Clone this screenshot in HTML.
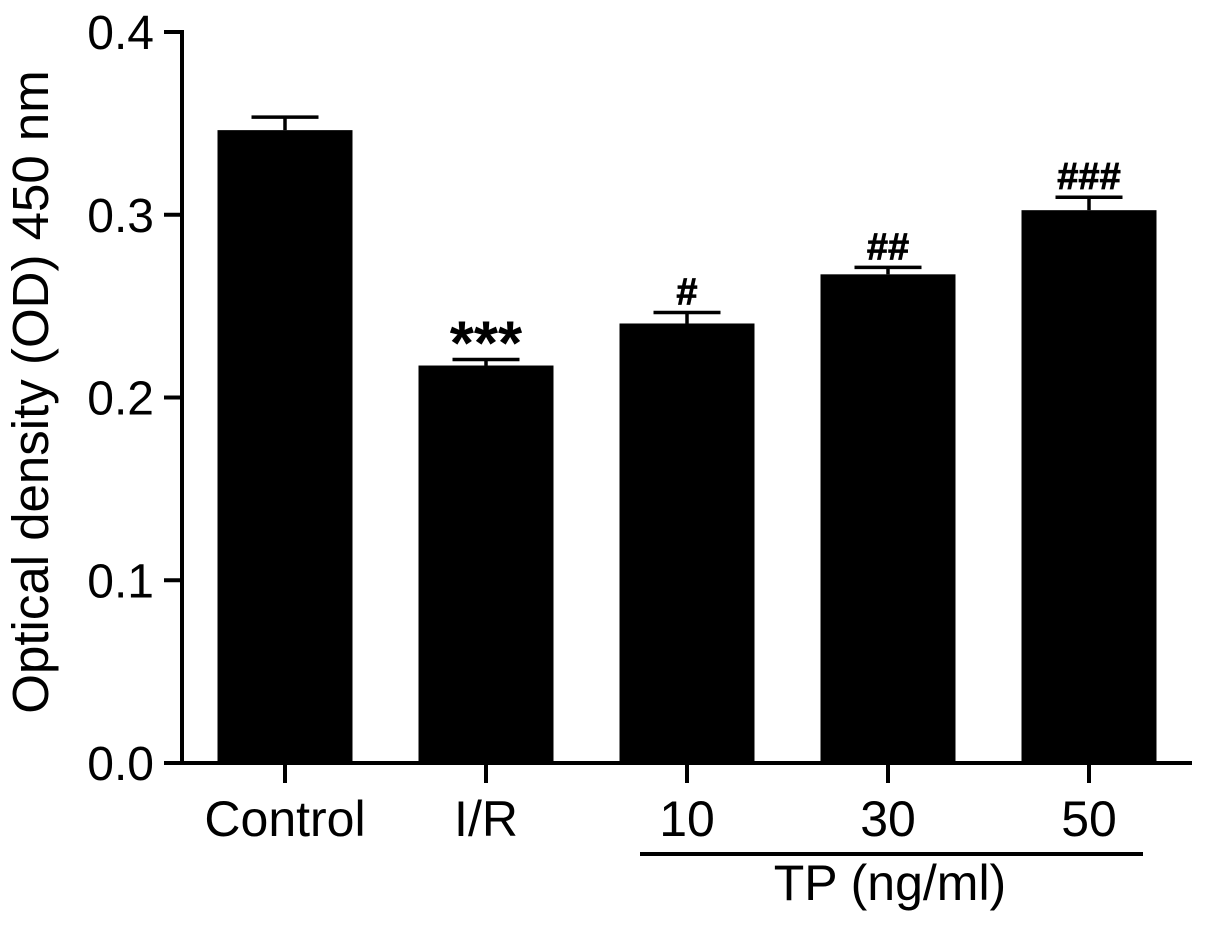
<!DOCTYPE html>
<html><head><meta charset="utf-8"><style>
html,body{margin:0;padding:0;background:#fff;width:1205px;height:932px;overflow:hidden}
svg text{font-family:"Liberation Sans",sans-serif;fill:#000}
</style></head><body>
<svg id="chart" width="1205" height="932" viewBox="0 0 1205 932" xmlns="http://www.w3.org/2000/svg"></svg>
<script>
const categories = ["Control", "I/R", "10", "30", "50"];
const means = [0.3463, 0.2175, 0.2405, 0.2674, 0.3025];
const errors = [0.0071, 0.0033, 0.0060, 0.0038, 0.0071];
const marks = ["", "***", "#", "##", "###"];
const yTicks = [0, 0.1, 0.2, 0.3, 0.4];
const yTickLabels = ["0.0", "0.1", "0.2", "0.3", "0.4"];

const NS = "http://www.w3.org/2000/svg";
const svg = document.getElementById('chart');
const y0 = 763, yTop = 32, yMax = 0.4;
function yScale(v){ return y0 - (v / yMax) * (y0 - yTop); }
const xStart = 285, xStep = 201;
function xScale(i){ return xStart + i * xStep; }
const barW = 135, capW = 67;
function mk(tag, attrs){ const e = document.createElementNS(NS, tag); for (const k in attrs) e.setAttribute(k, attrs[k]); svg.appendChild(e); return e; }

categories.forEach((c, i) => {
  const cx = xScale(i), top = yScale(means[i]), et = yScale(means[i] + errors[i]);
  const r = mk('rect', {x: cx - barW/2, y: top, width: barW, height: y0 - top, fill: '#000'});
  
  
  const v = mk('line', {x1: cx, x2: cx, y1: top, y2: et, stroke: '#000', 'stroke-width': 3.5});
  
  
  const cap = mk('line', {x1: cx - capW/2, x2: cx + capW/2, y1: et, y2: et, stroke: '#000', 'stroke-width': 3.5});
  
  
  if (marks[i]) {
    const star = marks[i][0] === '*';
    const t = mk('text', {x: cx, y: star ? et + 5 : et - 8, 'text-anchor': 'middle', 'font-size': star ? 62 : 38, 'font-weight': 'bold', 'stroke': '#000', 'stroke-width': star ? 0 : 0.8});
    t.textContent = marks[i];
    
    
  }
  const tk = mk('line', {x1: cx, x2: cx, y1: y0, y2: 783, stroke: '#000', 'stroke-width': 4});
  
  
  const lb = mk('text', {x: cx, y: 836, 'text-anchor': 'middle', 'font-size': 50});
  lb.textContent = c;
  
  
});

const ya = mk('line', {x1: 182, x2: 182, y1: yTop - 2, y2: y0 + 2, stroke: '#000', 'stroke-width': 4});


const xa = mk('line', {x1: 165, x2: 1192, y1: y0, y2: y0, stroke: '#000', 'stroke-width': 4});


yTicks.forEach((v, i) => {
  const y = yScale(v);
  const t = mk('line', {x1: 164, x2: 182, y1: y, y2: y, stroke: '#000', 'stroke-width': 4});
  
  
  const l = mk('text', {x: 154, y: y + 17, 'text-anchor': 'end', 'font-size': 48});
  l.textContent = yTickLabels[i];
  
  
});
const yt = mk('text', {x: 0, y: 0, 'text-anchor': 'middle', 'font-size': 51, transform: 'translate(48,392) rotate(-90)'});
yt.textContent = 'Optical density (OD) 450 nm';



const gl = mk('line', {x1: 640, x2: 1143, y1: 854, y2: 854, stroke: '#000', 'stroke-width': 4});


const gt = mk('text', {x: 890, y: 900, 'text-anchor': 'middle', 'font-size': 50});
gt.textContent = 'TP (ng/ml)';


</script>
</body></html>
